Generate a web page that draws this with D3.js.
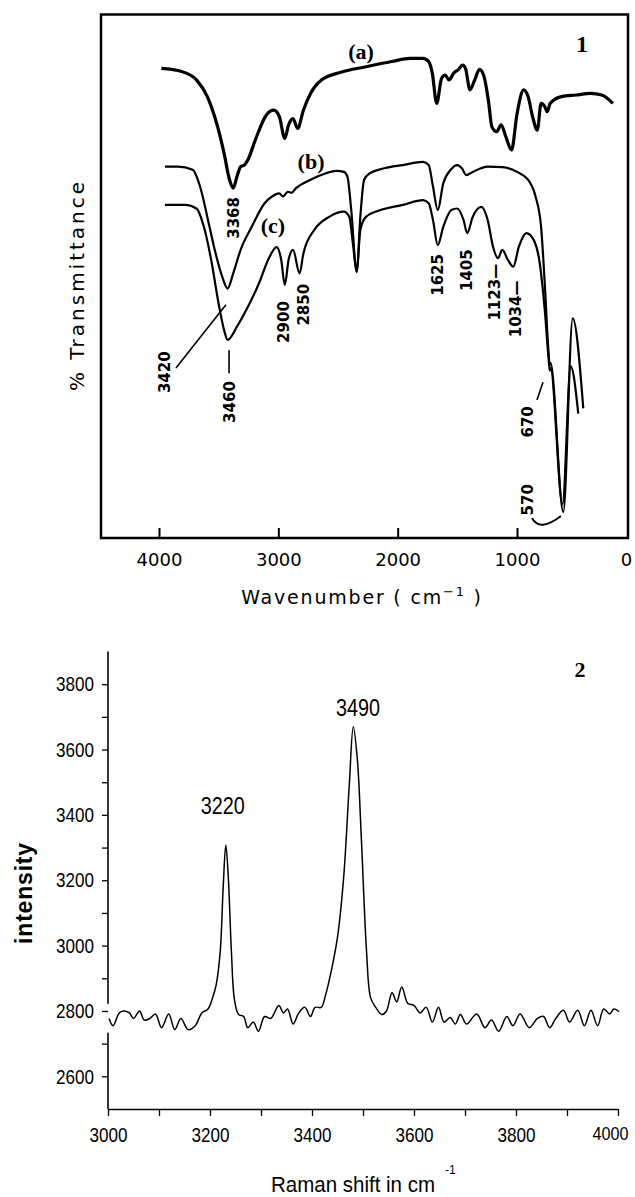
<!DOCTYPE html>
<html>
<head>
<meta charset="utf-8">
<script src="https://cdn.jsdelivr.net/npm/d3@7"></script>
<style>
  body { margin: 0; background: #fff; }
  svg { display: block; }
</style>
</head>
<body>
<svg width="635" height="1197"></svg>
<script>
// ---- panel 1 : IR spectra (wavenumber, % transmittance) ----
const irTicks = [4000, 3000, 2000, 1000, 0];

const irWaveA = [3980, 3810, 3686, 3595, 3517, 3455, 3409, 3378, 3347, 3316, 3285, 3255, 3193, 3100, 3038, 2992, 2946, 2914, 2877, 2838, 2790, 2730, 2636, 2483, 2266, 2050, 1895, 1788, 1740, 1710, 1673, 1632, 1602, 1570, 1530, 1494, 1456, 1432, 1394, 1354, 1314, 1277, 1240, 1210, 1169, 1133, 1093, 1046, 999, 940, 900, 860, 817, 783, 750, 727, 701, 600, 468, 335, 236, 136];
const irTransA = [89.8, 89.2, 87.6, 84.4, 79.3, 73.6, 68.5, 66.9, 69.1, 71.0, 71.3, 72.3, 76.1, 80.9, 81.8, 80.6, 76.4, 79.0, 80.2, 78.3, 81.8, 85.0, 87.6, 89.0, 90.1, 91.1, 91.7, 91.7, 91.1, 88.9, 83.1, 87.9, 88.5, 87.6, 88.9, 89.5, 90.4, 89.8, 85.7, 87.6, 89.6, 88.3, 83.7, 78.6, 77.7, 79.0, 76.7, 74.2, 81.2, 85.7, 84.4, 80.6, 78.0, 83.1, 82.5, 81.5, 83.1, 84.4, 84.7, 85.0, 84.7, 83.1];

const irWaveB = [3950, 3841, 3718, 3656, 3595, 3533, 3471, 3425, 3378, 3316, 3223, 3115, 3053, 2992, 2961, 2920, 2890, 2852, 2730, 2606, 2513, 2451, 2421, 2389, 2343, 2313, 2281, 2235, 2111, 1957, 1787, 1740, 1704, 1664, 1618, 1556, 1501, 1462, 1426, 1371, 1246, 1123, 999, 900, 833, 783, 750, 717, 705, 698, 583, 498, 403];
const irTransB = [71.0, 71.0, 70.4, 67.2, 61.4, 55.1, 50.0, 47.7, 50.6, 55.1, 59.5, 64.0, 65.3, 65.9, 65.3, 66.2, 66.0, 66.9, 68.5, 69.7, 70.2, 70.0, 69.1, 62.7, 50.9, 61.4, 68.5, 69.7, 70.7, 71.3, 71.9, 71.3, 67.2, 62.7, 67.8, 70.4, 71.3, 70.7, 69.4, 70.0, 71.0, 70.9, 70.0, 68.5, 65.3, 59.5, 48.7, 35.9, 33.0, 33.5, 5.0, 42.0, 24.8];

const irWaveC = [3950, 3780, 3686, 3624, 3563, 3501, 3455, 3425, 3347, 3255, 3162, 3085, 3014, 2976, 2946, 2914, 2877, 2822, 2790, 2699, 2574, 2451, 2405, 2375, 2343, 2313, 2266, 2143, 1957, 1787, 1740, 1704, 1664, 1618, 1550, 1501, 1448, 1417, 1371, 1299, 1246, 1201, 1160, 1123, 1077, 1031, 983, 916, 850, 800, 750, 717, 705, 698, 590, 516, 448];
const irTransC = [63.7, 63.7, 63.0, 59.5, 53.2, 44.9, 39.8, 37.9, 40.4, 44.2, 48.7, 53.2, 55.6, 53.2, 48.4, 53.2, 55.1, 50.6, 54.4, 58.9, 61.4, 62.4, 61.4, 56.3, 50.9, 58.9, 61.4, 62.7, 63.7, 64.6, 64.0, 60.8, 56.0, 59.5, 62.7, 63.0, 60.8, 58.3, 61.4, 63.3, 60.8, 55.7, 53.5, 55.1, 53.2, 51.9, 55.7, 58.3, 57.0, 53.2, 43.6, 34.7, 32.0, 32.5, 6.5, 32.8, 23.8];

const curveNames = ['(a)', '(b)', '(c)'];
const curveNameWave = [2307, 2726, 3045];
const curveNameTrans = [93.0, 72.1, 59.7];

const peakTexts = ['3368', '3420', '3460', '2900', '2850', '1625', '1405', '1123\u2014', '1034\u2014', '670', '570'];
const peakWave = [3371, 3950, 3405, 2952, 2785, 1662, 1419, 1184, 1008, 901, 901];
const peakTrans = [61.2, 31.7, 26.0, 41.3, 44.6, 50.3, 51.2, 47.0, 43.8, 22.2, 7.3];

// leader lines: [wave1, trans1, wave2, trans2]
const leaders = [[3858, 32.5, 3439, 44.6], [3413, 35.9, 3413, 31.5], [820, 26.4, 766, 29.8]];

// ---- panel 2 : Raman spectrum ----
const ramanTicks = [3000, 3100, 3200, 3300, 3400, 3500, 3600, 3700, 3800, 3900, 4000];
const intensityTicks = [2600, 2700, 2800, 2900, 3000, 3100, 3200, 3300, 3400, 3500, 3600, 3700, 3800];

const ramanShift = [3002, 3010, 3022, 3030, 3042, 3050, 3062, 3071, 3082, 3093, 3105, 3119, 3131, 3143, 3157, 3171, 3184, 3196, 3206, 3212, 3220, 3226, 3231, 3236, 3242, 3248, 3256, 3266, 3274, 3285, 3295, 3307, 3319, 3335, 3344, 3352, 3363, 3374, 3386, 3397, 3406, 3418, 3426, 3438, 3450, 3462, 3473, 3481, 3489, 3497, 3507, 3515, 3525, 3537, 3546, 3557, 3566, 3576, 3588, 3600, 3612, 3624, 3636, 3648, 3659, 3671, 3681, 3691, 3703, 3723, 3739, 3752, 3766, 3782, 3794, 3808, 3826, 3842, 3854, 3866, 3878, 3893, 3905, 3921, 3934, 3947, 3960, 3972, 3984, 3992, 4002];
const ramanIntensity = [2777, 2755, 2794, 2800, 2794, 2777, 2800, 2772, 2777, 2791, 2749, 2791, 2743, 2777, 2743, 2755, 2794, 2806, 2845, 2879, 2981, 3184, 3308, 3206, 2981, 2834, 2789, 2783, 2749, 2766, 2738, 2783, 2777, 2817, 2794, 2806, 2760, 2794, 2811, 2783, 2811, 2811, 2845, 2924, 3026, 3207, 3489, 3670, 3568, 3320, 2981, 2840, 2811, 2789, 2800, 2856, 2828, 2873, 2823, 2817, 2794, 2811, 2766, 2811, 2766, 2780, 2760, 2789, 2760, 2791, 2749, 2772, 2738, 2783, 2755, 2791, 2749, 2777, 2783, 2749, 2777, 2802, 2766, 2802, 2755, 2802, 2755, 2806, 2791, 2806, 2798];

const ramanPeakTexts = ['3220', '3490'];
const ramanPeakShift = [3225, 3490];
const ramanPeakLevel = [3427, 3727];

const svg = d3.select('svg');

// ================= panel 1 =================
const x1 = d3.scaleLinear().domain([4000, 1000, 0]).range([159, 517, 628]);
const y1 = d3.scaleLinear().domain([0, 100]).range([538, 15]);
const g1 = svg.append('g');

g1.append('rect')
    .attr('x', 101).attr('y', 14.5)
    .attr('width', 628 - 101).attr('height', 538 - 14.5)
    .attr('fill', 'none').attr('stroke', '#000').attr('stroke-width', 2.5);

g1.append('g')
    .attr('transform', 'translate(0,538)')
    .call(d3.axisBottom(x1).tickValues(irTicks).tickSizeInner(-10).tickSizeOuter(0).tickPadding(15)
        .tickFormat(d3.format('d')))
    .call(g => g.select('.domain').remove())
    .call(g => g.selectAll('.tick line').attr('stroke', '#000').attr('stroke-width', 2).filter(d => d === 0).remove())
    .call(g => g.selectAll('.tick text').attr('fill', '#000').filter(d => d === 0).attr('dx', -2))
    .attr('font-family', 'DejaVu Sans').attr('font-size', 18);

const irLine = d3.line()
    .x(d => x1(d[0]))
    .y(d => y1(d[1]))
    .curve(d3.curveMonotoneX);

const irSeries = [
    { w: irWaveA, t: irTransA, sw: 3.2 },
    { w: irWaveB, t: irTransB, sw: 2.2 },
    { w: irWaveC, t: irTransC, sw: 2.2 }
];

g1.selectAll('path.ir')
    .data(irSeries)
    .enter()
    .append('path')
    .attr('class', 'ir')
    .attr('d', s => irLine(s.w.map((w, i) => [w, s.t[i]])))
    .attr('fill', 'none')
    .attr('stroke', '#000')
    .attr('stroke-width', s => s.sw)
    .attr('stroke-linejoin', 'round');

g1.selectAll('text.cname')
    .data(curveNames)
    .enter()
    .append('text')
    .attr('class', 'cname')
    .attr('x', (d, i) => x1(curveNameWave[i]))
    .attr('y', (d, i) => y1(curveNameTrans[i]))
    .attr('dy', '0.35em')
    .attr('text-anchor', 'middle')
    .attr('font-family', 'Liberation Serif')
    .attr('font-weight', 'bold')
    .attr('font-size', 22)
    .text(d => d);

g1.selectAll('text.peak')
    .data(peakTexts)
    .enter()
    .append('text')
    .attr('class', 'peak')
    .attr('transform', (d, i) => `translate(${x1(peakWave[i])},${y1(peakTrans[i])}) rotate(-90)`)
    .attr('dy', '0.36em')
    .attr('text-anchor', 'middle')
    .attr('font-family', 'DejaVu Sans')
    .attr('font-weight', 'bold')
    .attr('font-size', 15)
    .text(d => d);

g1.selectAll('line.leader')
    .data(leaders)
    .enter()
    .append('line')
    .attr('x1', d => x1(d[0])).attr('y1', d => y1(d[1]))
    .attr('x2', d => x1(d[2])).attr('y2', d => y1(d[3]))
    .attr('stroke', '#000').attr('stroke-width', 1.6);

// bracket under the 570 label
g1.append('path')
    .attr('d', `M${x1(865)},${y1(3.8)} Q${x1(793)},${y1(1.1)} ${x1(604)},${y1(4.2)}`)
    .attr('fill', 'none').attr('stroke', '#000').attr('stroke-width', 2);

g1.append('text')
    .attr('x', 582).attr('y', 52)
    .attr('text-anchor', 'middle')
    .attr('font-family', 'Liberation Serif').attr('font-weight', 'bold').attr('font-size', 24)
    .text('1');

g1.append('text')
    .attr('transform', 'translate(77,285) rotate(-90)')
    .attr('dy', '0.35em')
    .attr('text-anchor', 'middle')
    .attr('font-family', 'DejaVu Sans').attr('font-size', 20).attr('letter-spacing', 3)
    .text('% Transmittance');

const wl = g1.append('text')
    .attr('x', 362).attr('y', 604)
    .attr('text-anchor', 'middle')
    .attr('font-family', 'DejaVu Sans').attr('font-size', 19).attr('letter-spacing', 1.8);
wl.append('tspan').text('Wavenumber ( cm');
wl.append('tspan').attr('dy', -8).attr('font-size', 13).text('\u22121');
wl.append('tspan').attr('dy', 8).text(' )');

// ================= panel 2 =================
const x2 = d3.scaleLinear().domain([3000, 4000]).range([108, 618]);
const y2 = d3.scaleLinear().domain([2500, 3900]).range([1109, 651.5]);
const g2 = svg.append('g');
const sans = 'Liberation Sans';

// narrow look: squeeze Liberation Sans glyphs to the width seen in the picture
const squeeze = (sel, w) => sel.attr('textLength', w).attr('lengthAdjust', 'spacingAndGlyphs');

g2.append('g')
    .attr('transform', 'translate(0,1109)')
    .call(d3.axisBottom(x2).tickValues(ramanTicks).tickSizeInner(7).tickSizeOuter(0).tickPadding(11)
        .tickFormat(d => d % 200 === 0 ? d : ''))
    .call(g => g.select('.domain').attr('stroke-width', 1.6))
    .call(g => g.selectAll('.tick line').attr('stroke-width', 1.3))
    .call(g => squeeze(g.selectAll('.tick text').filter(d => d % 200 === 0), 38))
    // last label sits against the page edge: anchor it at its end
    .call(g => g.selectAll('.tick text').filter(d => d === 4000)
        .attr('text-anchor', 'end').attr('dx', 10).attr('font-size', 19).attr('textLength', 36))
    .attr('font-family', sans).attr('font-size', 21);

g2.append('g')
    .attr('transform', `translate(${x2(3000)},0)`)
    .call(d3.axisLeft(y2).tickValues(intensityTicks).tickSizeInner(6).tickSizeOuter(0).tickPadding(8)
        .tickFormat(d => d % 200 === 0 ? d : ''))
    .call(g => g.select('.domain').remove())
    .call(g => g.selectAll('.tick line').attr('stroke-width', 1.3))
    .call(g => squeeze(g.selectAll('.tick text').filter(d => d % 200 === 0), 38))
    .attr('font-family', sans).attr('font-size', 21);

// y axis line, broken where the trace starts
g2.selectAll('line.yseg')
    .data([[3900, 2822], [2733, 2500]])
    .enter()
    .append('line')
    .attr('x1', x2(3000)).attr('x2', x2(3000))
    .attr('y1', d => y2(d[0])).attr('y2', d => y2(d[1]))
    .attr('stroke', '#000').attr('stroke-width', 1.6);

g2.append('path')
    .attr('d', d3.line()
        .x(d => x2(d[0]))
        .y(d => y2(d[1]))
        .curve(d3.curveCatmullRom.alpha(0.5))(ramanShift.map((s, i) => [s, ramanIntensity[i]])))
    .attr('fill', 'none')
    .attr('stroke', '#000')
    .attr('stroke-width', 1.5);

g2.selectAll('text.rpeak')
    .data(ramanPeakTexts)
    .enter()
    .append('text')
    .attr('class', 'rpeak')
    .attr('x', (d, i) => x2(ramanPeakShift[i]) - 22)
    .attr('y', (d, i) => y2(ramanPeakLevel[i]))
    .attr('dy', '0.35em')
    .attr('font-family', sans).attr('font-size', 24)
    .call(s => squeeze(s, 44))
    .text(d => d);

g2.append('text')
    .attr('transform', 'translate(24,893) rotate(-90)')
    .attr('dy', '0.35em')
    .attr('text-anchor', 'middle')
    .attr('font-family', sans).attr('font-weight', 'bold').attr('font-size', 23)
    .attr('letter-spacing', 0.8)
    .text('intensity');

g2.append('text')
    .attr('x', 271).attr('y', 1192)
    .attr('font-family', sans).attr('font-size', 22)
    .call(s => squeeze(s, 164))
    .text('Raman shift in cm');

g2.append('text')
    .attr('x', 445).attr('y', 1174)
    .attr('font-family', sans).attr('font-size', 12)
    .text('-1');

g2.append('text')
    .attr('x', 580).attr('y', 677)
    .attr('text-anchor', 'middle')
    .attr('font-family', 'Liberation Serif').attr('font-weight', 'bold').attr('font-size', 22)
    .text('2');
</script>
</body>
</html>
